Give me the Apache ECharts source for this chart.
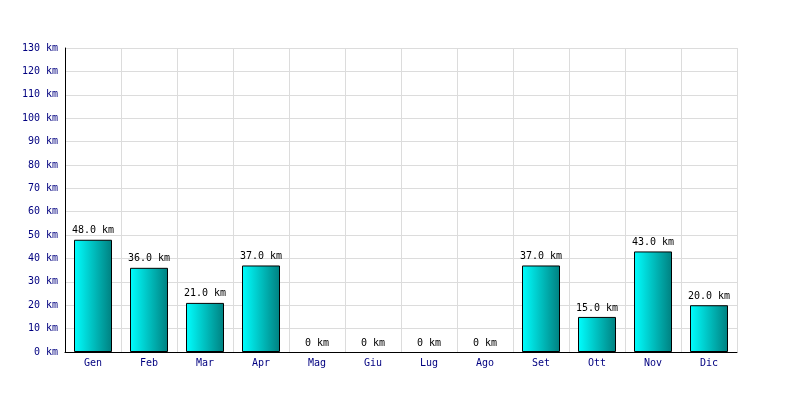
<!DOCTYPE html>
<html><head><meta charset="utf-8">
<script src="https://cdn.jsdelivr.net/npm/echarts@6/dist/echarts.min.js"></script>
<style>html,body{margin:0;padding:0;background:#fff}#c{width:800px;height:400px}</style>
</head><body><div id="c"></div>
<script>
const categories = ['Gen','Feb','Mar','Apr','Mag','Giu','Lug','Ago','Set','Ott','Nov','Dic'];
const distances = [48, 36, 21, 37, 0, 0, 0, 0, 37, 15, 43, 20];
const yMin = 0, yMax = 130, yStep = 10;

const chart = echarts.init(document.getElementById('c'), null, {renderer: 'canvas'});
const font = 'DejaVu Sans Mono';
chart.setOption({
  animation: false,
  backgroundColor: '#fff',
  grid: {left: 65, right: 63, top: 48, bottom: 48, containLabel: false},
  xAxis: {
    type: 'category', data: categories,
    axisLine: {lineStyle: {color: '#000', width: 1}},
    axisTick: {show: false},
    axisLabel: {color: '#000080', fontFamily: font, fontSize: 10, margin: 6},
    splitLine: {show: true, lineStyle: {color: '#dcdcdc', width: 1}}
  },
  yAxis: {
    type: 'value', min: yMin, max: yMax, interval: yStep,
    axisLine: {show: true, lineStyle: {color: '#000', width: 1}},
    axisTick: {show: false},
    axisLabel: {color: '#000080', fontFamily: font, fontSize: 10, margin: 7, formatter: v => v + ' km'},
    splitLine: {show: true, lineStyle: {color: '#dcdcdc', width: 1}}
  },
  series: [{
    type: 'bar', barWidth: 38,
    data: distances.map(v => v === 0 ? {value: v, itemStyle: {borderWidth: 0, color: 'rgba(0,0,0,0)'}} : v),
    itemStyle: {
      borderColor: '#000', borderWidth: 1,
      color: new echarts.graphic.LinearGradient(0, 0, 1, 0, [
        {offset: 0, color: '#00ffff'}, {offset: 1, color: '#008080'}
      ])
    },
    label: {show: true, position: 'top', distance: 4, color: '#000', fontFamily: font, fontSize: 10,
      formatter: p => p.value === 0 ? '0 km' : p.value.toFixed(1) + ' km'}
  }]
});
</script></body></html>
